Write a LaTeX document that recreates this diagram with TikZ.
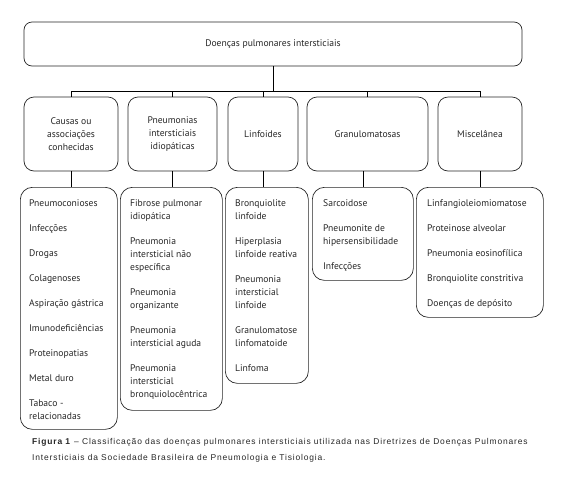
\documentclass[tikz,border=0pt]{standalone}
\usepackage{fontspec}
\setmainfont{PT Sans}
\newfontfamily\capfont[LetterSpace=10]{Liberation Sans}
\begin{document}
\begin{tikzpicture}[x=1pt,y=-1pt,
  box/.style={draw=black!85, line width=0.7pt, rounded corners=10pt, inner sep=0pt},
  lbl/.style={font=\fontsize{9.6}{13}\selectfont, align=center, text=black!85},
  items/.style={font=\fontsize{9.6}{13}\selectfont, align=left, inner sep=0pt, anchor=north west, text=black!85},
  conn/.style={line width=0.7pt, draw=black},
  capt/.style={font=\capfont\fontsize{8.45}{10}\selectfont, inner sep=0pt, anchor=base west, text=black!85}]
\useasboundingbox (0,0) rectangle (565,483);
% top
\node[box, lbl, rounded corners=8pt, minimum width=498pt, minimum height=44pt] (top) at (273,44) {Doenças pulmonares intersticiais};
% row 2
\node[box, lbl, minimum width=94pt, minimum height=74pt] (b1) at (71,134) {Causas ou\\associações\\conhecidas};
\node[box, lbl, minimum width=89pt, minimum height=74pt] (b2) at (172.5,134) {Pneumonias\\intersticiais\\idiopáticas};
\node[box, lbl, minimum width=70pt, minimum height=74pt] (b3) at (263,134) {Linfoides};
\node[box, lbl, minimum width=121pt, minimum height=74pt] (b4) at (367.5,134) {Granulomatosas};
\node[box, lbl, minimum width=84pt, minimum height=74pt] (b5) at (480,134) {Miscelânea};
% row 3 boxes
\node[box, rounded corners=12pt, anchor=north west, minimum width=97pt, minimum height=242pt] (ca) at (20,187) {};
\node[box, rounded corners=12pt, anchor=north west, minimum width=102pt, minimum height=223pt] (cb) at (120,187) {};
\node[box, rounded corners=12pt, anchor=north west, minimum width=83pt, minimum height=196pt] (cc) at (225,187) {};
\node[box, rounded corners=12pt, anchor=north west, minimum width=101pt, minimum height=93pt] (cd) at (312,187) {};
\node[box, rounded corners=12pt, anchor=north west, minimum width=127pt, minimum height=130pt] (ce) at (416,187) {};
% row 3 texts
\node[items] (ta) at (29,199) {Pneumoconioses\\[12pt]Infecções\\[12pt]Drogas\\[12pt]Colagenoses\\[12pt]Aspiração gástrica\\[12pt]Imunodeficiências\\[12pt]Proteinopatias\\[12pt]Metal duro\\[12pt]Tabaco -\\relacionadas};
\node[items] (tb) at (130,199) {Fibrose pulmonar\\idiopática\\[12pt]Pneumonia\\intersticial não\\específica\\[12pt]Pneumonia\\organizante\\[12pt]Pneumonia\\intersticial aguda\\[12pt]Pneumonia\\intersticial\\bronquiolocêntrica};
\node[items] (tc) at (235,199) {Bronquiolite\\linfoide\\[12pt]Hiperplasia\\linfoide reativa\\[12pt]Pneumonia\\intersticial\\linfoide\\[12pt]Granulomatose\\linfomatoide\\[12pt]Linfoma};
\node[items] (td) at (323,199) {Sarcoidose\\[12pt]Pneumonite de\\hipersensibilidade\\[12pt]Infecções};
\node[items] (te) at (427,199) {Linfangioleiomiomatose\\[12pt]Proteinose alveolar\\[12pt]Pneumonia eosinofílica\\[12pt]Bronquiolite constritiva\\[12pt]Doenças de depósito};
% connectors
\coordinate (bus) at (273,91);
\draw[conn] (top.south) -- (bus);
\draw[conn] (b1.north) -- (b1.north |- bus) -- (b5.north |- bus) -- (b5.north);
\draw[conn] (b2.north) -- (b2.north |- bus);
\draw[conn] (b3.north) -- (b3.north |- bus);
\draw[conn] (b4.north) -- (b4.north |- bus);
\draw[conn] (b1.south) -- (b1.south |- ca.north);
\draw[conn] (b2.south) -- (b2.south |- cb.north);
\draw[conn] (b3.south) -- (b3.south |- cc.north);
\draw[conn] (cd.north |- b4.south) -- (cd.north);
\draw[conn] (b5.south) -- (b5.south |- ce.north);
% caption
\node[capt] (cap1) at (32,444.5) {\textbf{Figura 1} – Classificação das doenças pulmonares intersticiais utilizada nas Diretrizes de Doenças Pulmonares};
\node[capt] (cap2) at (32,460) {Intersticiais da Sociedade Brasileira de Pneumologia e Tisiologia.};
\end{tikzpicture}
\end{document}
